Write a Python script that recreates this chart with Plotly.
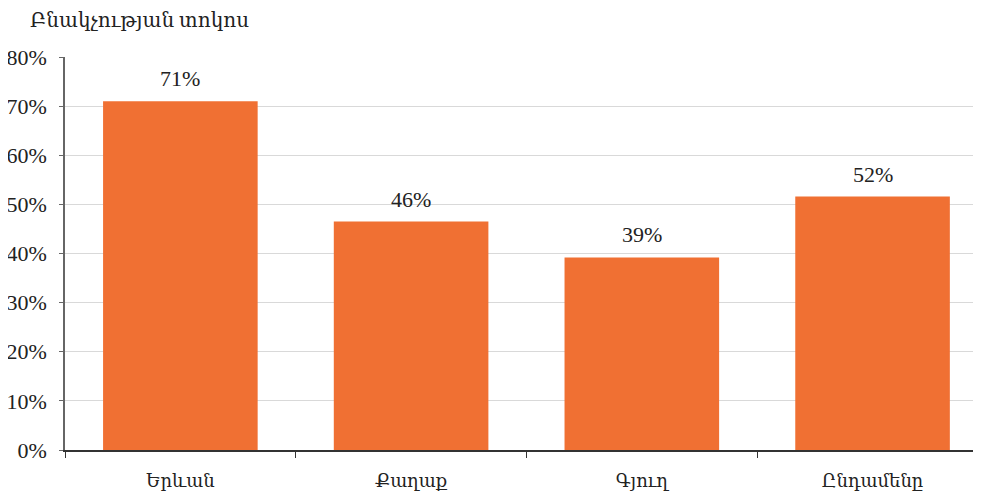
import plotly.graph_objects as go

categories = ["Երևան", "Քաղաք", "Գյուղ", "Ընդամենը"]
values = [71.0, 46.5, 39.2, 51.6]
labels = ["71%", "46%", "39%", "52%"]
y_ticks = [0, 10, 20, 30, 40, 50, 60, 70, 80]
y_tick_text = [f"{v}%" for v in y_ticks]
title_text = "Բնակչության տոկոս"

font_family = "'Times New Roman', 'Liberation Serif', 'DejaVu Serif', serif"

fig = go.Figure()
fig.add_trace(go.Bar(
    x=categories, y=values,
    marker=dict(color="#F07033", line=dict(width=0)),
    hoverinfo="skip",
))

for c, v, t in zip(categories, values, labels):
    fig.add_annotation(x=c, y=v, text=t, showarrow=False, yanchor="bottom",
                       yshift=8, font=dict(size=22, color="#222222", family=font_family))

# page body has an 8px default margin, so the figure is offset by 8px
W, H = 973, 487
fig.update_layout(
    width=W, height=H,
    margin=dict(l=57, r=0, t=49, b=45, autoexpand=False),
    plot_bgcolor="white", paper_bgcolor="white",
    bargap=0.33,
    showlegend=False,
    font=dict(family=font_family, size=20, color="#222222"),
    title=dict(text=title_text, x=22 / W, xref="container", xanchor="left",
               y=1 - 12 / H, yref="container", yanchor="middle",
               font=dict(size=20, family=font_family, color="#222222")),
    xaxis=dict(
        range=[-0.5, 3.47],
        showline=True, linecolor="#333333", linewidth=1.5,
        ticks="outside", tickson="boundaries", ticklen=6, tickcolor="#333333",
        ticklabelstandoff=14,
        tickfont=dict(size=18, family=font_family),
        showgrid=False, automargin=False,
    ),
    yaxis=dict(
        range=[0, 80], tickvals=y_ticks, ticktext=y_tick_text,
        showline=True, linecolor="#666666", linewidth=1.5,
        ticks="outside", ticklen=4, tickcolor="#666666",
        ticklabelstandoff=8,
        showgrid=True, gridcolor="#d9d9d9", gridwidth=1,
        tickfont=dict(size=22, family=font_family),
        zeroline=False, automargin=False,
    ),
)

fig.write_html("out.html")
